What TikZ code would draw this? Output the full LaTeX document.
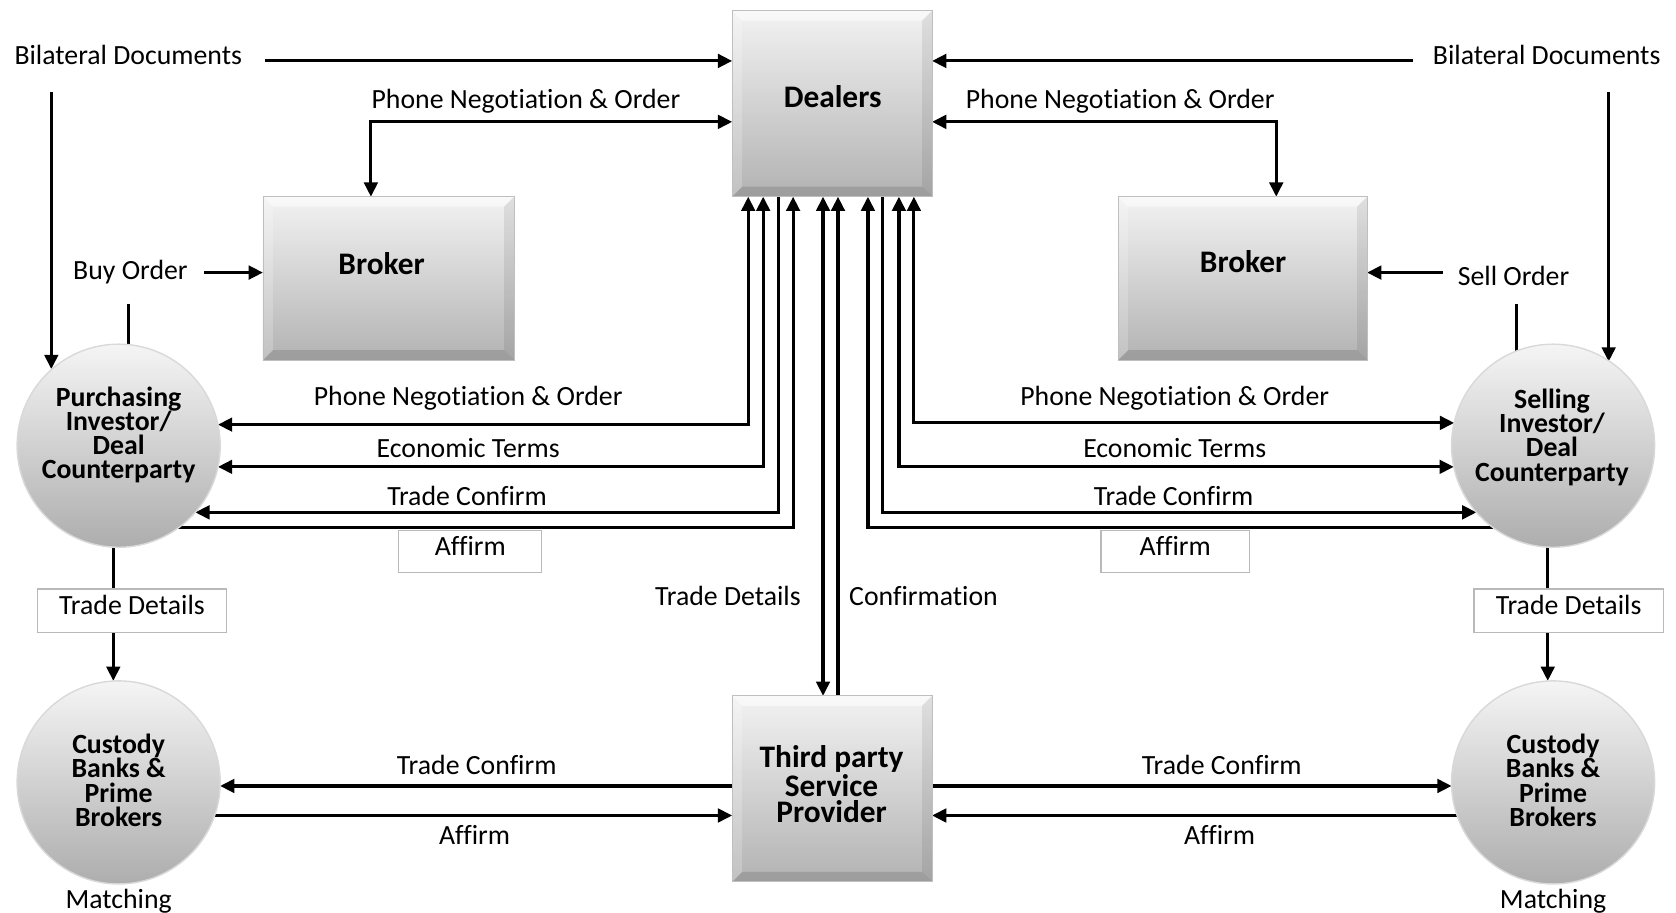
\documentclass[tikz,border=0pt]{standalone}
\usepackage{fontspec}
\setmainfont{Carlito}[Ligatures=NoCommon, RawFeature={-liga;-clig;-calt;-dlig}]
\usetikzlibrary{arrows.meta}
\pgfdeclarelayer{bg}
\pgfsetlayers{bg,main}
\begin{document}
\begin{tikzpicture}[x=0.75pt, y=-0.75pt,
  every node/.style={font=\fontsize{19.5}{23}\selectfont, inner sep=0pt, outer sep=0pt},
  lbl/.style={text height=0.68em, text depth=0.18em, yshift=-4pt},
  conn/.style={line width=2.2pt},
  arr/.style={conn, -{Triangle[length=10pt,width=9.5pt]}},
  barr/.style={conn, {Triangle[length=10pt,width=9.5pt]}-{Triangle[length=10pt,width=9.5pt]}},
  tbox/.style={text height=0.68em, text depth=0.18em, draw=gray!55, line width=0.8pt, fill=white},
  bevelbox/.style={rectangle, top color=gray!10, bottom color=gray!60, draw=gray!50, line width=0.6pt,
    path picture={
      \def\bvlw{7pt}
      \fill[white,opacity=0.55] (path picture bounding box.north west) -- (path picture bounding box.north east)
        -- ([shift={(-\bvlw,-\bvlw)}]path picture bounding box.north east) -- ([shift={(\bvlw,-\bvlw)}]path picture bounding box.north west) -- cycle;
      \fill[white,opacity=0.2] (path picture bounding box.north west) -- (path picture bounding box.south west)
        -- ([shift={(\bvlw,\bvlw)}]path picture bounding box.south west) -- ([shift={(\bvlw,-\bvlw)}]path picture bounding box.north west) -- cycle;
      \fill[black,opacity=0.08] (path picture bounding box.north east) -- (path picture bounding box.south east)
        -- ([shift={(-\bvlw,\bvlw)}]path picture bounding box.south east) -- ([shift={(-\bvlw,-\bvlw)}]path picture bounding box.north east) -- cycle;
      \fill[black,opacity=0.12] (path picture bounding box.south west) -- (path picture bounding box.south east)
        -- ([shift={(-\bvlw,\bvlw)}]path picture bounding box.south east) -- ([shift={(\bvlw,\bvlw)}]path picture bounding box.south west) -- cycle;
    }},
  ball/.style={circle, minimum size=142.5pt, top color=gray!8, bottom color=gray!64, draw=gray!30, line width=1pt},
  btext/.style={font=\bfseries\fontsize{19.5}{17}\selectfont, align=center},
  boxtext/.style={font=\bfseries\fontsize{22}{18.75}\selectfont, align=center},
]
\useasboundingbox (0,0) rectangle (1568,854);

% main boxes
\node[bevelbox, minimum width=140.25pt, minimum height=130.5pt] (dealers) at (778.5,97) {};
\node[boxtext] (dealersT) at (779,90) {Dealers};
\node[bevelbox, minimum width=176.25pt, minimum height=114.75pt] (brokerL) at (363.5,260.5) {};
\node[boxtext] (brokerLT) at (357,247) {Broker};
\node[bevelbox, minimum width=174.75pt, minimum height=114.75pt] (brokerR) at (1162.5,260.5) {};
\node[boxtext] (brokerRT) at (1163,245) {Broker};
\node[bevelbox, minimum width=140.25pt, minimum height=130.5pt] (third) at (778.5,738) {};
\node[boxtext] (thirdT) at (778,734) {Third party\\Service\\Provider};

% circles
\node[ball] (purch) at (111,417) {};
\node[btext] (purchT) at (111,407) {Purchasing\\Investor/\\Deal\\Counterparty};
\node[ball] (sel) at (1453,417) {};
\node[btext] (selT) at (1452,409) {Selling\\Investor/\\Deal\\Counterparty};
\node[ball] (custL) at (111,732) {};
\node[btext] (custLT) at (111,730) {Custody\\Banks \&\\Prime\\Brokers};
\node[ball] (custR) at (1453,732) {};
\node[btext] (custRT) at (1453,730) {Custody\\Banks \&\\Prime\\Brokers};

% labels
\node[lbl] (bilL) at (120,52) {Bilateral Documents};
\node[lbl] (bilR) at (1447,52) {Bilateral Documents};
\node[lbl] (pnoTL) at (492,93) {Phone Negotiation \& Order};
\node[lbl] (pnoTR) at (1048,93) {Phone Negotiation \& Order};
\node[lbl] (buy) at (122,253) {Buy Order};
\node[lbl] (sell) at (1416,258) {Sell Order};
\node[lbl] (pnoL) at (438,371) {Phone Negotiation \& Order};
\node[lbl] (econL) at (438,419) {Economic Terms};
\node[lbl] (tcL) at (437,464) {Trade Confirm};
\node[lbl] (pnoR) at (1099,371) {Phone Negotiation \& Order};
\node[lbl] (econR) at (1099,419) {Economic Terms};
\node[lbl] (tcR) at (1098,464) {Trade Confirm};
\node[tbox, minimum width=100.5pt, minimum height=30pt] (affL) at (440,516) {Affirm};
\node[tbox, minimum width=104.25pt, minimum height=30pt] (affR) at (1099.5,516) {Affirm};
\node[lbl] (tdM) at (681,558) {Trade Details};
\node[lbl] (conf) at (864,558) {Confirmation};
\node[tbox, minimum width=132.75pt, minimum height=30.75pt] (tdL) at (123.5,571.5) {Trade Details};
\node[tbox, minimum width=132.75pt, minimum height=30.75pt] (tdR) at (1467.5,571.5) {Trade Details};
\node[lbl] (tcBL) at (446,716) {Trade Confirm};
\node[lbl] (affBL) at (444,781) {Affirm};
\node[lbl] (tcBR) at (1143,716) {Trade Confirm};
\node[lbl] (affBR) at (1141,781) {Affirm};
\node[lbl] (matchL) at (111,841) {Matching};
\node[lbl] (matchR) at (1453,841) {Matching};

\begin{pgfonlayer}{bg}
% bilateral documents to dealers
\coordinate (bdL) at (248,57);
\draw[arr] (bdL) -- (dealers.west |- bdL);
\coordinate (bdR) at (1322,57);
\draw[arr] (bdR) -- (dealers.east |- bdR);
% phone negotiation dealers <-> brokers
\coordinate (pnl) at (347,114);
\draw[barr] (dealers.west |- pnl) -- (pnl) -- (brokerL.north -| pnl);
\coordinate (pnr) at (1194,114);
\draw[barr] (dealers.east |- pnr) -- (pnr) -- (brokerR.north -| pnr);
% bilateral documents to investors
\coordinate (bvl) at (48,86);
\draw[arr] (bvl) -- (bvl |- purch.131.5);
\coordinate (bvr) at (1505,86);
\draw[arr] (bvr) -- (bvr |- sel.56.8);
% buy / sell orders
\coordinate (buyS) at (191,255);
\draw[arr] (buyS) -- (brokerL.west |- buyS);
\coordinate (sellS) at (1350,255);
\draw[arr] (sellS) -- (brokerR.east |- sellS);
\coordinate (stL) at (120,284);
\draw[conn] (stL) -- (stL |- purch.84.6);
\coordinate (stR) at (1419,284);
\draw[conn] (stR) -- (stR |- sel.111);
% left bundle
\coordinate (v1) at (700,0);
\coordinate (v2) at (714,0);
\coordinate (v3) at (728,0);
\coordinate (v4) at (742,0);
\draw[barr] (dealers.south -| v1) |- (purch.12.8);
\draw[barr] (dealers.south -| v2) |- (purch.-12.8);
\draw[arr] (dealers.south -| v3) |- (purch.-41.5);
\draw[arr] (purch.-54.2) -| (dealers.south -| v4);
% right bundle
\coordinate (v5) at (812,0);
\coordinate (v6) at (826,0);
\coordinate (v7) at (841,0);
\coordinate (v8) at (855,0);
\draw[barr] (dealers.south -| v8) |- (sel.167.2);
\draw[barr] (dealers.south -| v7) |- (sel.192.8);
\draw[arr] (dealers.south -| v6) |- (sel.221.5);
\draw[arr] (sel.234.2) -| (dealers.south -| v5);
% middle
\coordinate (vm1) at (770,0);
\coordinate (vm2) at (784,0);
\draw[barr] (dealers.south -| vm1) -- (third.north -| vm1);
\draw[arr] (third.north -| vm2) -- (dealers.south -| vm2);
% trade details down
\draw[arr] ([xshift=-3.75pt]purch.south) -- ([xshift=-3.75pt]custL.north);
\draw[arr] ([xshift=-3.75pt]sel.south) -- ([xshift=-3.75pt]custR.north);
% bottom
\draw[arr] (third.west |- custL.-2.4) -- (custL.-2.4);
\draw[arr] (custL.-19.7) -- (third.west |- custL.-19.7);
\draw[arr] (third.east |- custR.182.4) -- (custR.182.4);
\draw[arr] (custR.199.7) -- (third.east |- custR.199.7);
\end{pgfonlayer}
\end{tikzpicture}
\end{document}
